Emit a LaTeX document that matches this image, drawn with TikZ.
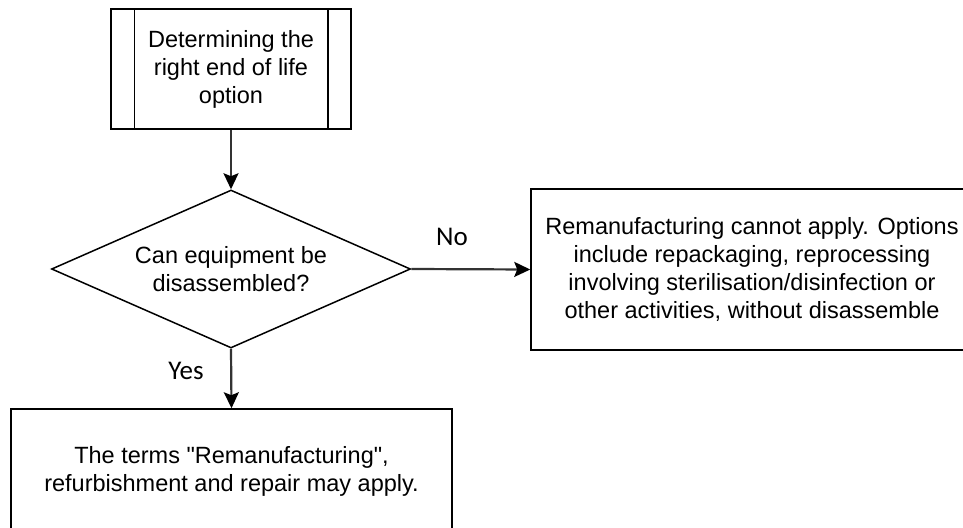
\documentclass[tikz,border=0pt]{standalone}
\usepackage{fontspec}
\setmainfont{Liberation Sans}[Ligatures=TeXOff]
\newfontfamily\labelfont{Carlito}
\usetikzlibrary{shapes.geometric,arrows.meta}

\begin{document}
\begin{tikzpicture}[x=1pt,y=1pt,
  boxtext/.style={font=\fontsize{23.5}{28}\selectfont, align=center, text=black},
  procbox/.style={boxtext, draw=black, line width=1.5pt, rectangle, inner sep=0pt},
  decision/.style={boxtext, draw=black, line width=1.5pt, diamond, shape aspect=2.27, inner sep=0pt},
  flow/.style={draw=black!80, line width=2.2pt, -{Stealth[length=16pt,width=15pt,inset=3pt,color=black]}},
  branchlabel/.style={font=\labelfont\fontsize{27}{32}\selectfont, text=black}
]
\useasboundingbox (0,0) rectangle (963,-527);
\clip (0,0) rectangle (963,-527);

% predefined process
\node[procbox, minimum width=240pt, minimum height=120pt] (start) at (231,-69)
  {Determining the\\right end of life\\option};
\draw[line width=1.5pt] ([xshift=24pt]start.north west) -- ([xshift=24pt]start.south west);
\draw[line width=1.5pt] ([xshift=-24pt]start.north east) -- ([xshift=-24pt]start.south east);

% decision
\node[decision, minimum width=359pt, minimum height=158pt] (ask) at (231,-269)
  {Can equipment be\\disassembled?};

% outcomes
\node[procbox, minimum width=442pt, minimum height=161pt] (nobox) at (752,-269.5)
  {Remanufacturing cannot apply. Options\\include repackaging, reprocessing\\involving sterilisation/disinfection or\\other activities, without disassemble};
\node[procbox, minimum width=441pt, minimum height=124pt] (yesbox) at (231.5,-471)
  {The terms "Remanufacturing",\\refurbishment and repair may apply.};

% connectors
\draw[flow] (start.south) -- (ask.north);
\draw[flow] (ask.east) -- (nobox.west);
\draw[flow] (ask.south) -- (yesbox.north);

% branch labels
\node[branchlabel] (nolabel) at (452,-237) {No};
\node[branchlabel] (yeslabel) at (186,-371) {Yes};
\end{tikzpicture}
\end{document}
